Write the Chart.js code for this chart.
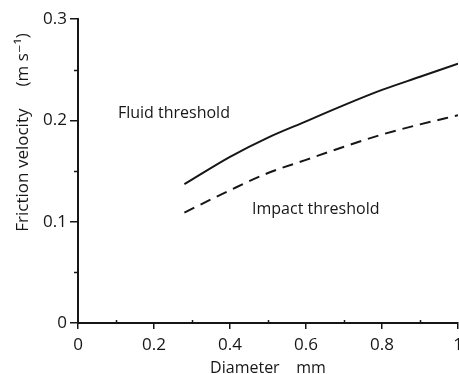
<!DOCTYPE html>
<html>
<head>
<meta charset="utf-8">
<script src="https://cdn.jsdelivr.net/npm/chart.js@4/dist/chart.umd.min.js"></script>
<style>
  html, body { margin: 0; padding: 0; background: #fff; }
  #wrap { width: 459px; height: 374px; position: relative; }
</style>
</head>
<body>
<div id="wrap"><canvas id="c" width="459" height="374"></canvas></div>
<script>
// Grain diameter (mm) and threshold friction velocities (m s^-1)
const diameters       = [0.28, 0.40, 0.50, 0.60, 0.70, 0.80, 0.90, 1.00];
const fluidThreshold  = [0.137, 0.164, 0.183, 0.199, 0.215, 0.230, 0.243, 0.256];
const impactThreshold = [0.109, 0.131, 0.148, 0.161, 0.174, 0.186, 0.196, 0.205];

// Axis ticks
const xTickLabels = ['0', '0.2', '0.4', '0.6', '0.8', '1'];
const yTickLabels = ['0', '0.1', '0.2', '0.3'];

// Curve labels placed in data space
const curveLabels = [
  { text: 'Fluid threshold',  x: 0.105, y: 0.207 },
  { text: 'Impact threshold', x: 0.458, y: 0.1125 }
];

const FONT = '"Open Sans", "DejaVu Sans", sans-serif';
const INK = '#161616';

const toPoints = (xs, ys) => xs.map((x, i) => ({ x, y: ys[i] }));

// Minor ticks, curve labels and the rotated y title
const extras = {
  id: 'extras',
  afterDraw(chart) {
    const { ctx, scales: { x, y }, chartArea } = chart;
    ctx.save();
    ctx.strokeStyle = INK;
    ctx.lineWidth = 1.5;
    // minor ticks on x at odd tenths
    for (let v = 0.1; v < 1; v += 0.2) {
      const px = Math.round(x.getPixelForValue(v)) + 0.5;
      ctx.beginPath();
      ctx.moveTo(px, chartArea.bottom - 3);
      ctx.lineTo(px, chartArea.bottom + 1);
      ctx.stroke();
    }
    // minor ticks on y at 0.05, 0.15, 0.25
    for (let v = 0.05; v < 0.3; v += 0.1) {
      const py = Math.round(y.getPixelForValue(v)) + 0.5;
      ctx.beginPath();
      ctx.moveTo(chartArea.left - 4, py);
      ctx.lineTo(chartArea.left, py);
      ctx.stroke();
    }
    // curve labels
    ctx.fillStyle = INK;
    ctx.font = '500 16px ' + FONT;
    ctx.textBaseline = 'middle';
    ctx.textAlign = 'left';
    curveLabels.forEach(l => {
      ctx.fillText(l.text, x.getPixelForValue(l.x), y.getPixelForValue(l.y));
    });
    // y axis title
    ctx.translate(23, y.getPixelForValue(0.188));
    ctx.rotate(-Math.PI / 2);
    ctx.textAlign = 'center';
    ctx.font = '17px ' + FONT;
    ctx.fillText('Friction velocity     (m s\u207B\u00B9)', 0, 0);
    ctx.restore();
  }
};

new Chart(document.getElementById('c'), {
  type: 'line',
  data: {
    datasets: [
      {
        label: 'Fluid threshold',
        data: toPoints(diameters, fluidThreshold),
        borderColor: INK,
        borderWidth: 2,
        pointRadius: 0,
        fill: false,
        cubicInterpolationMode: 'monotone'
      },
      {
        label: 'Impact threshold',
        data: toPoints(diameters, impactThreshold),
        borderColor: INK,
        borderWidth: 2,
        borderDash: [11, 7],
        pointRadius: 0,
        fill: false,
        cubicInterpolationMode: 'monotone'
      }
    ]
  },
  options: {
    responsive: false,
    animation: false,
    devicePixelRatio: 1,
    layout: { padding: { top: 19, right: 1, left: 0, bottom: 0 } },
    plugins: {
      legend: { display: false },
      tooltip: { enabled: false }
    },
    scales: {
      x: {
        type: 'linear',
        min: 0, max: 1,
        afterFit(s) { s.height = 51; s.paddingRight = 0; s.paddingLeft = 0; },
        ticks: {
          stepSize: 0.2,
          padding: 6,
          color: INK,
          font: { family: FONT, size: 17 },
          maxRotation: 0,
          callback: (v) => xTickLabels[Math.round(v * 5)]
        },
        grid: { drawOnChartArea: false, drawTicks: true, tickLength: 6, color: INK, lineWidth: 1.5 },
        border: { display: true, color: INK, width: 2 },
        title: {
          display: true,
          text: 'Diameter    mm',
          color: INK,
          font: { family: FONT, size: 16 },
          padding: { top: 0, bottom: -4 }
        }
      },
      y: {
        type: 'linear',
        min: 0, max: 0.3,
        afterFit(s) { s.width = 78; s.paddingTop = 0; s.paddingBottom = 0; },
        ticks: {
          stepSize: 0.1,
          padding: 3,
          color: INK,
          font: { family: FONT, size: 17 },
          callback: (v) => yTickLabels[Math.round(v * 10)]
        },
        grid: { drawOnChartArea: false, drawTicks: true, tickLength: 8, color: INK, lineWidth: 1.5 },
        border: { display: true, color: INK, width: 2 }
      }
    }
  },
  plugins: [extras]
});
</script>
</body>
</html>
